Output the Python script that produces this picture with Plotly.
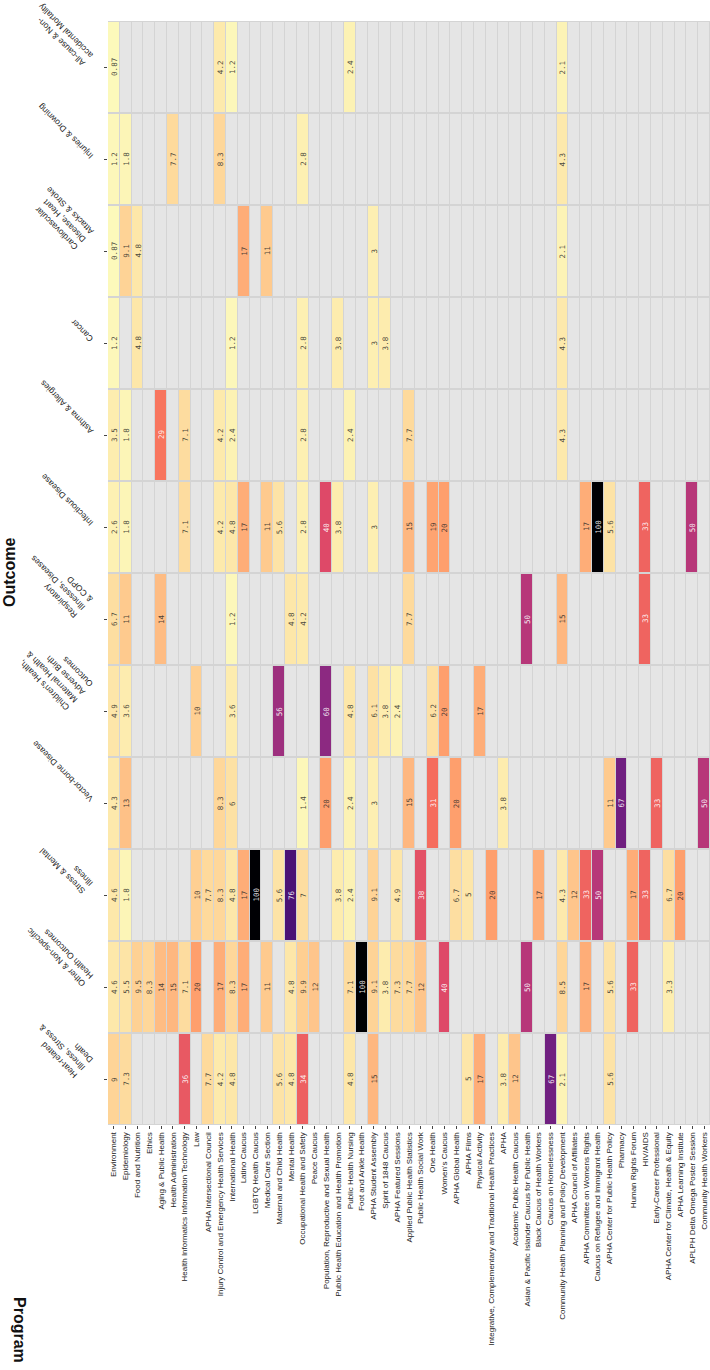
import numpy as np
import plotly.graph_objects as go

programs = [
    "Environment", "Epidemiology", "Food and Nutrition", "Ethics", "Aging & Public Health",
    "Health Administration", "Health Informatics Information Technology", "Law",
    "APHA Intersectional Council", "Injury Control and Emergency Health Services",
    "International Health", "Latino Caucus", "LGBTQ Health Caucus", "Medical Care Section",
    "Maternal and Child Health", "Mental Health", "Occupational Health and Safety", "Peace Caucus",
    "Population, Reproductive and Sexual Health", "Public Health Education and Health Promotion",
    "Public Health Nursing", "Foot and Ankle Health", "APHA Student Assembly", "Spirit of 1848 Caucus",
    "APHA Featured Sessions", "Applied Public Health Statistics", "Public Health Social Work",
    "One Health", "Women's Caucus", "APHA Global Health", "APHA Films", "Physical Activity",
    "Integrative, Complementary and Traditional Health Practices", "APHA", "Academic Public Health Caucus",
    "Asian & Pacific Islander Caucus for Public Health", "Black Caucus of Health Workers",
    "Caucus on Homelessness", "Community Health Planning and Policy Development",
    "APHA Council of Affiliates", "APHA Committee on Womens Rights", "Caucus on Refugee and Immigrant Health",
    "APHA Center for Public Health Policy", "Pharmacy", "Human Rights Forum", "HIV/AIDS",
    "Early-Career Professional", "APHA Center for Climate, Health & Equity", "APHA Learning Institute",
    "APLPH Delta Omega Poster Session", "Community Health Workers",
]

outcomes = [
    "All-cause & Non-<br>accidental Mortality",
    "Injuries & Drowning",
    "Cardiovascular<br>Disease, Heart<br>Attacks & Stroke",
    "Cancer",
    "Asthma & Allergies",
    "Infectious Disease",
    "Respiratory<br>Illnesses, Diseases<br>& COPD",
    "Children's Health,<br>Maternal Health &<br>Adverse Birth<br>Outcomes",
    "Vector-borne Disease",
    "Stress & Mental<br>Illness",
    "Other & Non-specific<br>Health Outcomes",
    "Heat-related<br>Illness, Stress &<br>Death",
]

mortality = {"Environment": 0.87, "Injury Control and Emergency Health Services": 4.2,
             "International Health": 1.2, "Public Health Nursing": 2.4,
             "Community Health Planning and Policy Development": 2.1}
injuries = {"Environment": 1.2, "Epidemiology": 1.8, "Health Administration": 7.7,
            "Injury Control and Emergency Health Services": 8.3, "Occupational Health and Safety": 2.8,
            "Community Health Planning and Policy Development": 4.3}
cardio = {"Environment": 0.87, "Epidemiology": 9.1, "Food and Nutrition": 4.8, "Latino Caucus": 17,
          "Medical Care Section": 11, "APHA Student Assembly": 3,
          "Community Health Planning and Policy Development": 2.1}
cancer = {"Environment": 1.2, "Food and Nutrition": 4.8, "International Health": 1.2,
          "Occupational Health and Safety": 2.8, "Public Health Education and Health Promotion": 3.8,
          "APHA Student Assembly": 3, "Spirit of 1848 Caucus": 3.8,
          "Community Health Planning and Policy Development": 4.3}
asthma = {"Environment": 3.5, "Epidemiology": 1.8, "Aging & Public Health": 29,
          "Health Informatics Information Technology": 7.1,
          "Injury Control and Emergency Health Services": 4.2, "International Health": 2.4,
          "Occupational Health and Safety": 2.8, "Public Health Nursing": 2.4,
          "Applied Public Health Statistics": 7.7, "Community Health Planning and Policy Development": 4.3}
infectious = {"Environment": 2.6, "Epidemiology": 1.8, "Health Informatics Information Technology": 7.1,
              "Injury Control and Emergency Health Services": 4.2, "International Health": 4.8,
              "Latino Caucus": 17, "Medical Care Section": 11, "Maternal and Child Health": 5.6,
              "Occupational Health and Safety": 2.8, "Population, Reproductive and Sexual Health": 40,
              "Public Health Education and Health Promotion": 3.8, "APHA Student Assembly": 3,
              "Applied Public Health Statistics": 15, "One Health": 19, "Women's Caucus": 20,
              "APHA Committee on Womens Rights": 17, "Caucus on Refugee and Immigrant Health": 100,
              "APHA Center for Public Health Policy": 5.6, "HIV/AIDS": 33,
              "APLPH Delta Omega Poster Session": 50}
respiratory = {"Environment": 6.7, "Epidemiology": 11, "Aging & Public Health": 14,
               "International Health": 1.2, "Mental Health": 4.8, "Occupational Health and Safety": 4.2,
               "Applied Public Health Statistics": 7.7,
               "Asian & Pacific Islander Caucus for Public Health": 50,
               "Community Health Planning and Policy Development": 15, "HIV/AIDS": 33}
children = {"Environment": 4.9, "Epidemiology": 3.6, "Law": 10, "International Health": 3.6,
            "Maternal and Child Health": 56, "Population, Reproductive and Sexual Health": 60,
            "Public Health Nursing": 4.8, "APHA Student Assembly": 6.1, "Spirit of 1848 Caucus": 3.8,
            "APHA Featured Sessions": 2.4, "One Health": 6.2, "Women's Caucus": 20,
            "Physical Activity": 17}
vector = {"Environment": 4.3, "Epidemiology": 13, "Injury Control and Emergency Health Services": 8.3,
          "International Health": 6, "Occupational Health and Safety": 1.4,
          "Population, Reproductive and Sexual Health": 20, "Public Health Nursing": 2.4,
          "APHA Student Assembly": 3, "Applied Public Health Statistics": 15, "One Health": 31,
          "APHA Global Health": 20, "APHA": 3.8, "APHA Center for Public Health Policy": 11,
          "Pharmacy": 67, "Early-Career Professional": 33, "Community Health Workers": 50}
stress = {"Environment": 4.6, "Epidemiology": 1.8, "Law": 10, "APHA Intersectional Council": 7.7,
          "Injury Control and Emergency Health Services": 8.3, "International Health": 4.8,
          "Latino Caucus": 17, "LGBTQ Health Caucus": 100, "Maternal and Child Health": 5.6,
          "Mental Health": 76, "Occupational Health and Safety": 7,
          "Public Health Education and Health Promotion": 3.8, "Public Health Nursing": 2.4,
          "APHA Student Assembly": 9.1, "APHA Featured Sessions": 4.9, "Public Health Social Work": 38,
          "APHA Global Health": 6.7, "APHA Films": 5,
          "Integrative, Complementary and Traditional Health Practices": 20,
          "Black Caucus of Health Workers": 17, "Community Health Planning and Policy Development": 4.3,
          "APHA Council of Affiliates": 12, "APHA Committee on Womens Rights": 33,
          "Caucus on Refugee and Immigrant Health": 50, "Human Rights Forum": 17, "HIV/AIDS": 33,
          "APHA Center for Climate, Health & Equity": 6.7, "APHA Learning Institute": 20}
other = {"Environment": 4.6, "Epidemiology": 5.5, "Food and Nutrition": 9.5, "Ethics": 8.3,
         "Aging & Public Health": 14, "Health Administration": 15,
         "Health Informatics Information Technology": 7.1, "Law": 20,
         "Injury Control and Emergency Health Services": 17, "International Health": 8.3,
         "Latino Caucus": 17, "Medical Care Section": 11, "Mental Health": 4.8,
         "Occupational Health and Safety": 9.9, "Peace Caucus": 12, "Public Health Nursing": 7.1,
         "Foot and Ankle Health": 100, "APHA Student Assembly": 9.1, "Spirit of 1848 Caucus": 3.8,
         "APHA Featured Sessions": 7.3, "Applied Public Health Statistics": 7.7,
         "Public Health Social Work": 12, "Women's Caucus": 40,
         "Asian & Pacific Islander Caucus for Public Health": 50,
         "Community Health Planning and Policy Development": 8.5,
         "APHA Committee on Womens Rights": 17, "APHA Center for Public Health Policy": 5.6,
         "Human Rights Forum": 33, "APHA Center for Climate, Health & Equity": 3.3}
heat = {"Environment": 9, "Epidemiology": 7.3, "Health Informatics Information Technology": 36,
        "APHA Intersectional Council": 7.7, "Injury Control and Emergency Health Services": 4.2,
        "International Health": 4.8, "Maternal and Child Health": 5.6, "Mental Health": 4.8,
        "Occupational Health and Safety": 34, "Public Health Nursing": 4.8, "APHA Student Assembly": 15,
        "APHA Films": 5, "Physical Activity": 17, "APHA": 3.8, "Academic Public Health Caucus": 12,
        "Caucus on Homelessness": 67, "Community Health Planning and Policy Development": 2.1,
        "APHA Center for Public Health Policy": 5.6}

rows = [mortality, injuries, cardio, cancer, asthma, infectious, respiratory,
        children, vector, stress, other, heat]

magma_r = [[0.0, "#fcfdbf"], [0.1, "#fecf92"], [0.2, "#fe9f6d"], [0.3, "#f7705c"],
           [0.4, "#de4968"], [0.5, "#b73779"], [0.6, "#8c2981"], [0.7, "#641a80"],
           [0.8, "#3b0f70"], [0.9, "#140e36"], [1.0, "#000004"]]

nP, nO = len(programs), len(outcomes)
z = np.full((nO, nP), np.nan)
for i, row in enumerate(rows):
    for name, v in row.items():
        z[i, programs.index(name)] = v

xs = list(range(nP))
ys = list(range(nO))

fig = go.Figure()
fig.add_trace(go.Heatmap(z=np.zeros((nO, nP)), x=xs, y=ys,
                         colorscale=[[0, "#e5e5e5"], [1, "#e5e5e5"]],
                         showscale=False, xgap=1, ygap=2, hoverinfo="skip"))
fig.add_trace(go.Heatmap(z=z, x=xs, y=ys, colorscale=magma_r, zmin=0, zmax=100,
                         showscale=False, xgap=1, ygap=2))


def fmt(v):
    if v >= 10:
        return f"{v:.0f}"
    return f"{v:.2g}"


annotations = []
for i in range(nO):
    for j in range(nP):
        v = z[i, j]
        if np.isnan(v):
            continue
        annotations.append(dict(
            x=j, y=i, xref="x", yref="y", text=fmt(v), showarrow=False, textangle=-90,
            font=dict(family="DejaVu Sans Mono", size=7.5,
                      color="rgba(255,255,255,0.9)" if v >= 25 else "rgba(40,40,40,0.85)")))

for i, lab in enumerate(outcomes):
    annotations.append(dict(
        x=(98 - 108) / 602, xref="paper", y=i, yref="y", text=lab, showarrow=False,
        textangle=-135, xanchor="right", yanchor="bottom", yshift=-4, align="left",
        font=dict(family="Liberation Sans, Arial", size=8.5, color="#222")))

annotations.append(dict(x=(9 - 108) / 602, xref="paper", y=0.5, yref="paper", text="<b>Outcome</b>",
                        showarrow=False, textangle=-90, xanchor="center", yanchor="middle",
                        font=dict(family="Liberation Sans, Arial", size=16, color="#111")))
annotations.append(dict(x=(20 - 108) / 602, xref="paper", y=(1125 - 1330) / 1104, yref="paper",
                        text="<b>Program</b>", showarrow=False, textangle=90,
                        xanchor="center", yanchor="middle",
                        font=dict(family="Liberation Sans, Arial", size=16, color="#111")))

fig.update_layout(
    width=710, height=1370,
    margin=dict(l=108, r=0, t=21, b=245, pad=0),
    paper_bgcolor="white", plot_bgcolor="#d4d4d4",
    annotations=annotations,
    xaxis=dict(range=[-0.5, nP - 0.5], tickvals=xs, ticktext=programs, tickangle=-90,
               ticks="outside", ticklen=3, tickcolor="#444", showgrid=False, zeroline=False,
               showline=False, automargin=False,
               tickfont=dict(family="Liberation Sans, Arial", size=8, color="#222")),
    yaxis=dict(range=[nO - 0.5, -0.5], tickvals=ys, showticklabels=False, ticks="outside",
               ticklen=3, tickcolor="#444", showgrid=False, zeroline=False, showline=False,
               automargin=False),
    showlegend=False,
)

fig.write_html("out.html")
